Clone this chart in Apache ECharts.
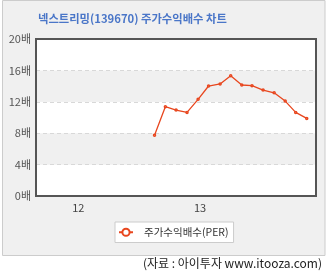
<!DOCTYPE html>
<html><head><meta charset="utf-8">
<script src="https://cdn.jsdelivr.net/npm/echarts@6/dist/echarts.min.js"></script>
<style>html,body{margin:0;padding:0;background:#fff}#c{width:330px;height:271px}</style>
</head><body><div id="c"></div>
<script>
const titleText = '넥스트리밍(139670) 주가수익배수 차트';
const seriesName = '주가수익배수(PER)';
const sourceText = '(자료 : 아이투자 www.itooza.com)';
// x positions in years (12 = 2012, 13 = 2013)
const periods = [12.626, 12.715, 12.803, 12.893, 12.984, 13.070, 13.165, 13.252, 13.343, 13.427, 13.518, 13.609, 13.700, 13.786, 13.877];
const perValues = [7.75, 11.37, 10.95, 10.65, 12.31, 14.01, 14.27, 15.33, 14.14, 14.05, 13.5, 13.15, 12.09, 10.65, 9.88];
const xTickValues = [12, 13];
const yTickUnit = '배';

const font = 'Noto Sans CJK KR';
const chart = echarts.init(document.getElementById('c'), null, {renderer: 'canvas'});
chart.setOption({
  animation: false,
  backgroundColor: '#ffffff',
  graphic: [
    {type: 'rect', z: -10, shape: {x: 2.5, y: 0.5, width: 322.5, height: 255}, style: {fill: '#f0f0f0', stroke: '#cccccc', lineWidth: 1}},
    {type: 'rect', z: 100, shape: {x: 36, y: 39, width: 280, height: 157}, style: {fill: null, stroke: '#555555', lineWidth: 2}},
    {type: 'text', left: 38, top: 13, style: {text: titleText, font: 'bold 11.3px "' + font + '"', fill: '#4a76c8'}},
    {type: 'text', right: 8, top: 257, style: {text: sourceText, font: '12px "' + font + '"', fill: '#222222'}}
  ],
  grid: {left: 36, right: 14, top: 39, bottom: 75, show: false},
  legend: {
    left: 115, top: 222,
    padding: [5, 5, 5, 3],
    backgroundColor: '#ffffff', borderColor: '#cccccc', borderWidth: 1, borderRadius: 0,
    itemWidth: 14, itemHeight: 9,
    textStyle: {fontFamily: font, fontSize: 10.5, color: '#333333', padding: [0, 0, 0, 6]},
    data: [seriesName]
  },
  xAxis: {
    type: 'value', min: 11.652, max: 13.953,
    axisLine: {show: false}, axisTick: {show: false}, splitLine: {show: false},
    axisLabel: {customValues: xTickValues, formatter: v => String(Math.round(v)), fontFamily: font, fontSize: 11, color: '#444444', margin: 6}
  },
  yAxis: {
    type: 'value', min: 0, max: 20, interval: 4,
    axisLine: {show: false}, axisTick: {show: false},
    axisLabel: {formatter: '{value}' + yTickUnit, fontFamily: font, fontSize: 11, color: '#555555', margin: 5},
    splitLine: {show: true, lineStyle: {color: '#d8d8d8', type: [4, 3], width: 1}},
    splitArea: {show: true, areaStyle: {color: ['#ffffff', '#f0f0f0']}}
  },
  series: [{
    name: seriesName, type: 'line',
    data: periods.map((x, i) => [x, perValues[i]]),
    symbol: 'emptyCircle', symbolSize: 1.5,
    itemStyle: {color: '#e8461e', borderColor: '#e8461e', borderWidth: 1},
    lineStyle: {color: '#e8461e', width: 1.3},
    z: 5
  }]
});
</script></body></html>
